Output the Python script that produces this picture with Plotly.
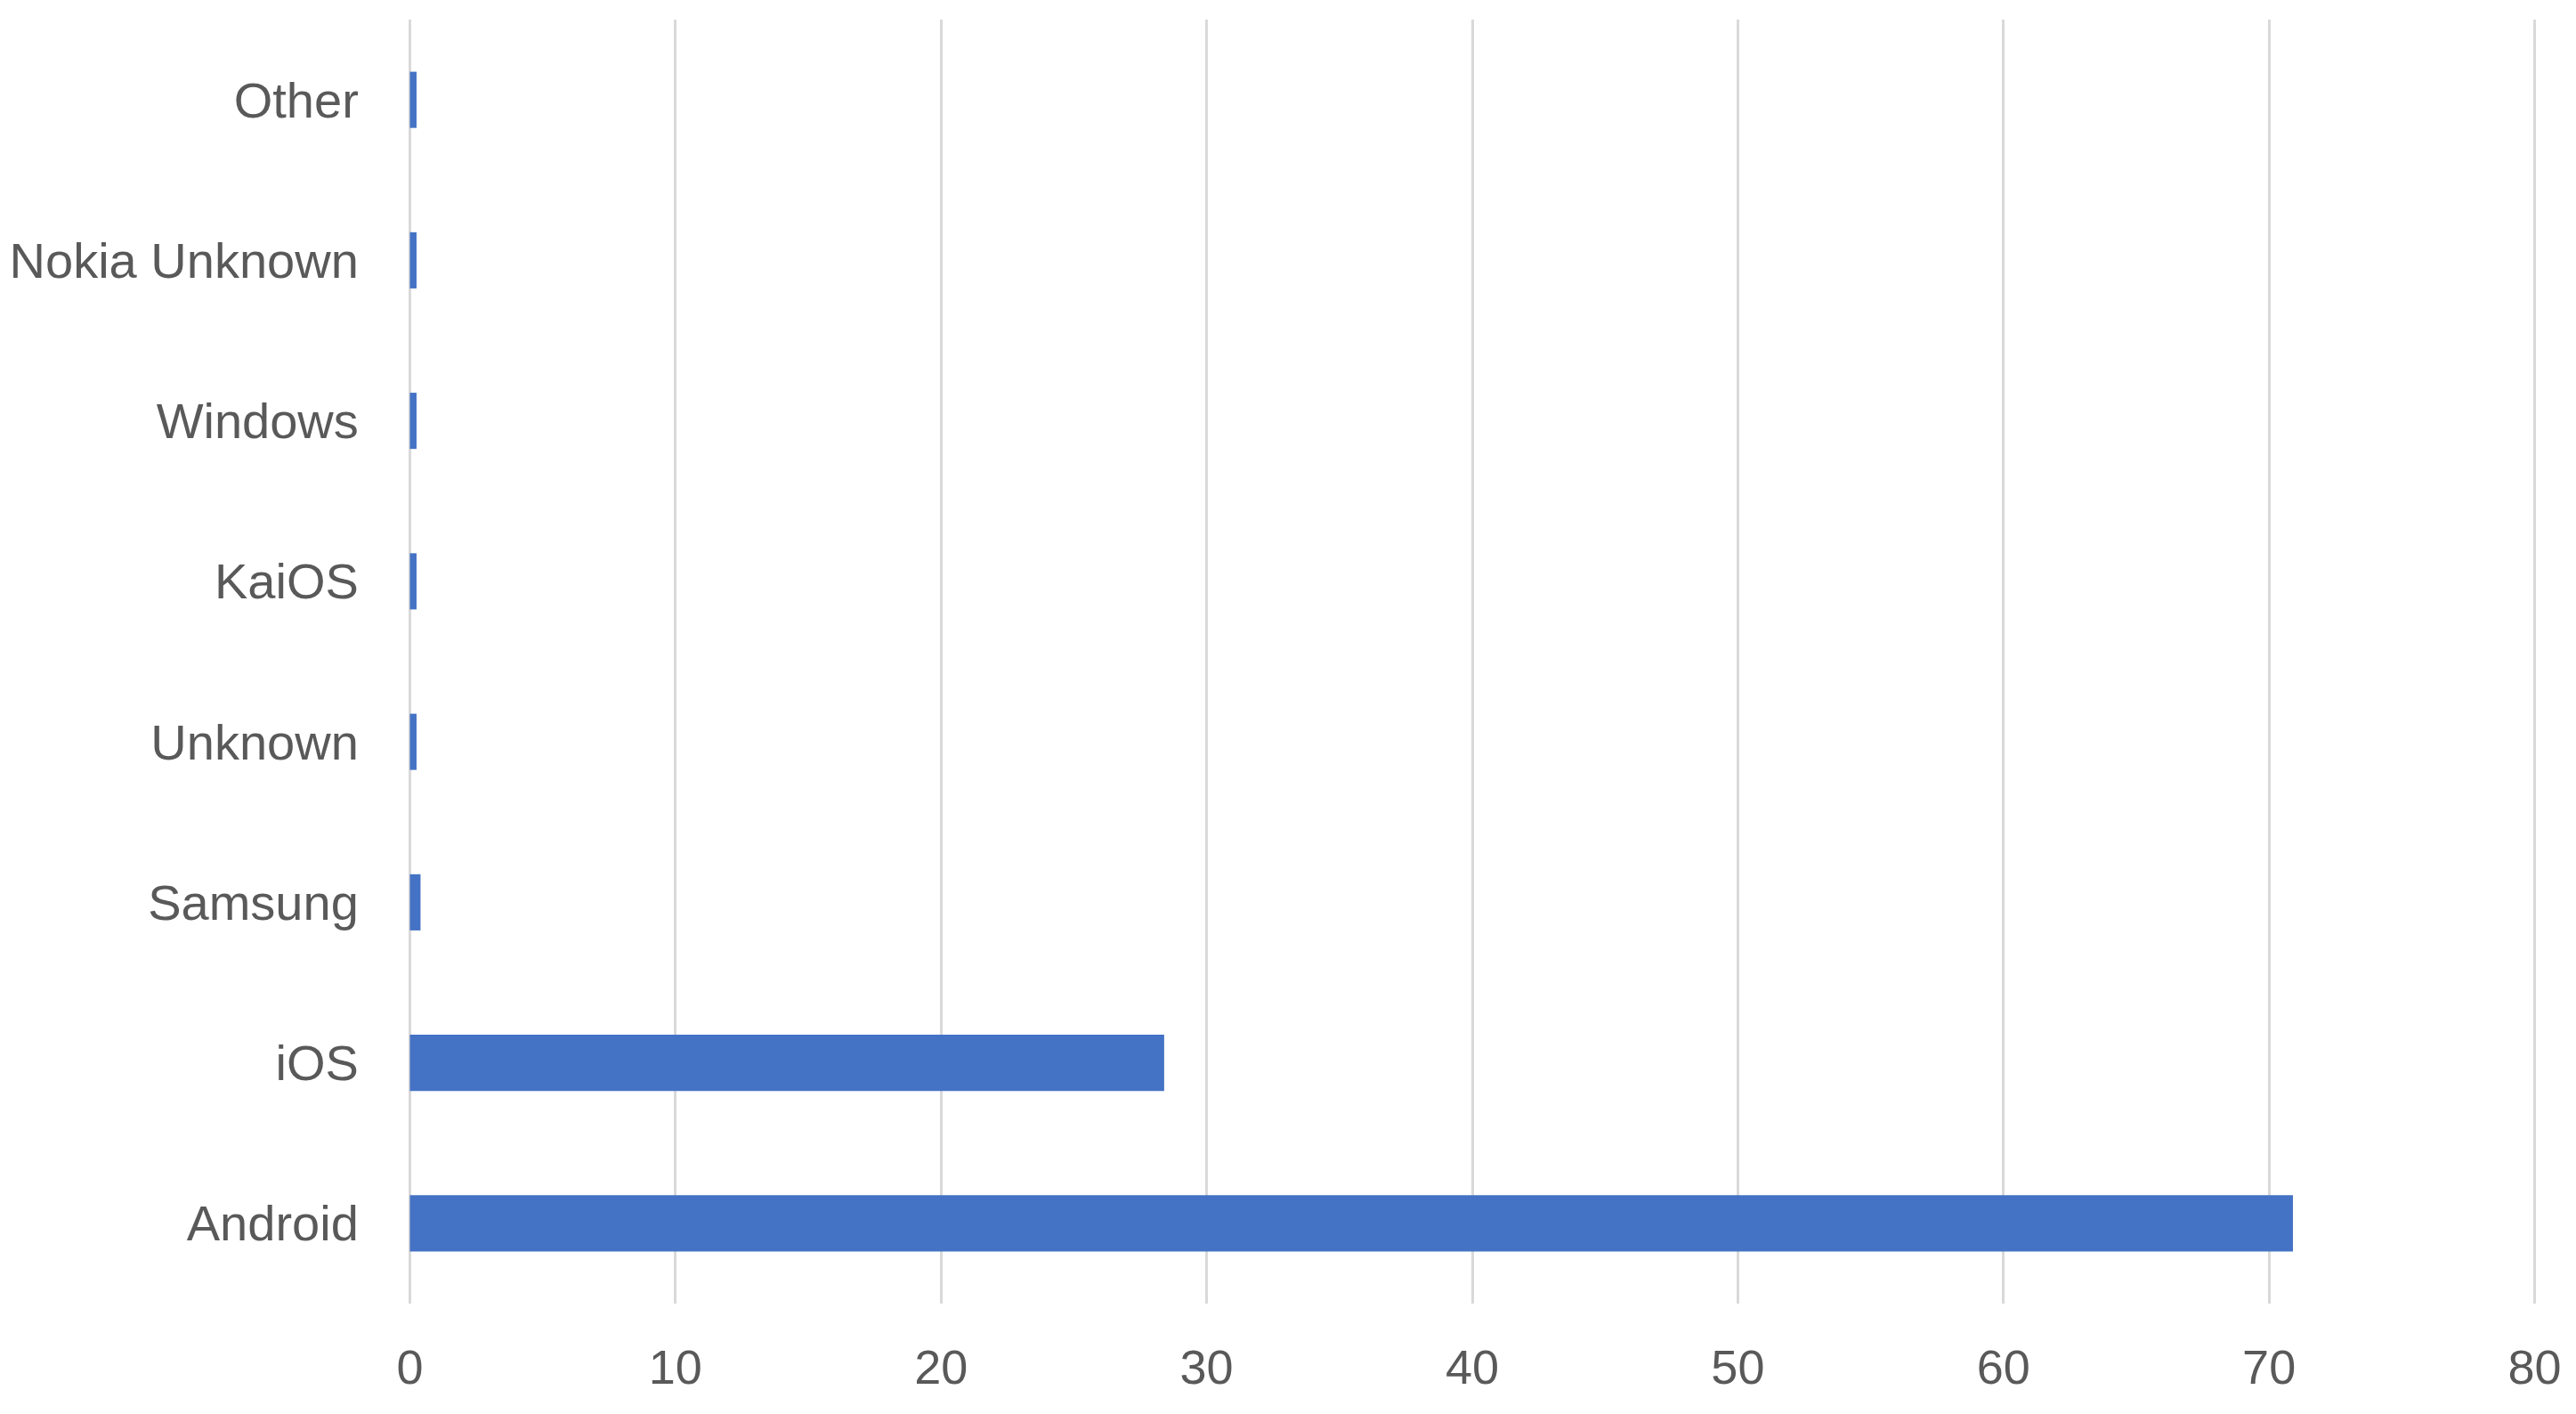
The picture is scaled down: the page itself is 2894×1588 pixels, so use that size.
import plotly.graph_objects as go

categories = ["Android", "iOS", "Samsung", "Unknown", "KaiOS", "Windows", "Nokia Unknown", "Other"]
values = [70.9, 28.4, 0.4, 0.25, 0.25, 0.25, 0.25, 0.25]
x_ticks = [0, 10, 20, 30, 40, 50, 60, 70, 80]

fig = go.Figure(
    go.Bar(
        x=values,
        y=categories,
        orientation="h",
        marker=dict(color="#4472C4", line=dict(width=0)),
    )
)

font = dict(family="Liberation Sans, Arial, sans-serif", size=56, color="#595959")
xfont = dict(family="Liberation Sans, Arial, sans-serif", size=54, color="#595959")

# page body has an 8px default margin, so the figure is sized to fit inside it
fig.update_layout(
    width=2878,
    height=1572,
    margin=dict(l=451, r=37, t=14, b=116),
    paper_bgcolor="white",
    plot_bgcolor="white",
    bargap=0.65,
    showlegend=False,
    font=font,
)

fig.update_xaxes(
    automargin=False,
    range=[-0.05, 80.05],
    tickvals=x_ticks,
    ticktext=[str(v) for v in x_ticks],
    showgrid=True,
    gridcolor="#D9D9D9",
    gridwidth=3,
    zeroline=True,
    zerolinecolor="#D9D9D9",
    zerolinewidth=3,
    showline=False,
    ticks="outside",
    ticklen=24,
    tickcolor="rgba(0,0,0,0)",
    tickfont=xfont,
)

fig.update_yaxes(
    automargin=False,
    categoryorder="array",
    categoryarray=categories,
    showgrid=False,
    zeroline=False,
    showline=False,
    ticks="outside",
    ticklen=44,
    tickcolor="rgba(0,0,0,0)",
    tickfont=font,
)

fig.write_html("out.html")
